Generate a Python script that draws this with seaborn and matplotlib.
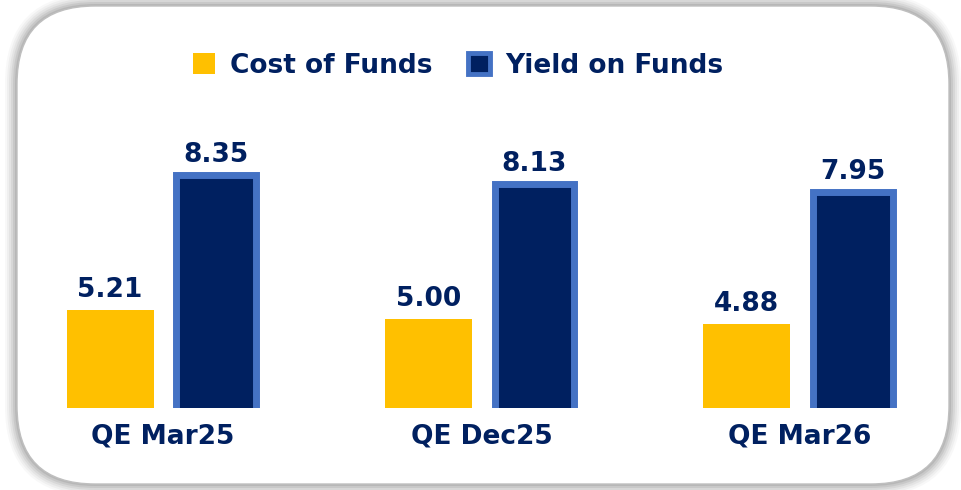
import matplotlib
matplotlib.use("Agg")
import matplotlib.pyplot as plt
import pandas as pd
import seaborn as sns
from matplotlib.patches import FancyBboxPatch, Patch
from matplotlib.transforms import IdentityTransform

# ---- data ----
quarters = ["QE Mar25", "QE Dec25", "QE Mar26"]
series_names = ["Cost of Funds", "Yield on Funds"]
cost_of_funds = [5.21, 5.00, 4.88]
yield_on_funds = [8.35, 8.13, 7.95]

NAVY = "#002060"
YELLOW = "#FFC000"
EDGE_BLUE = "#4472C4"
FS = 19

df = pd.DataFrame({
    "quarter": quarters * 2,
    "series": [series_names[0]] * 3 + [series_names[1]] * 3,
    "value": cost_of_funds + yield_on_funds,
})

sns.set_style("white")
plt.rcParams["font.family"] = ["DejaVu Sans"]

fig = plt.figure(figsize=(9.61, 4.9), dpi=100)

# rounded card with a soft grey shadow (drawn in pixel space)
for i, a in enumerate([0.05, 0.07, 0.09, 0.12, 0.16, 0.22]):
    grow = 12 - i * 2
    shadow = FancyBboxPatch((17 - grow, 6 - grow), 932 + 2 * grow, 478 + 2 * grow,
                            boxstyle=f"round,pad=0,rounding_size={78 + grow}",
                            transform=IdentityTransform(), facecolor="#7f7f7f",
                            edgecolor="none", alpha=a, zorder=0)
    fig.patches.append(shadow)
card = FancyBboxPatch((17, 6), 932, 478, boxstyle="round,pad=0,rounding_size=78",
                      transform=IdentityTransform(), facecolor="white",
                      edgecolor="#bfbfbf", linewidth=1.0, zorder=1)
fig.patches.append(card)

ax = fig.add_axes([4 / 961, 82 / 490, 955 / 961, 304 / 490])
ax.set_zorder(2)
ax.patch.set_alpha(0)

sns.barplot(data=df, x="quarter", y="value", hue="series", order=quarters,
            hue_order=series_names, palette=[YELLOW, NAVY], width=0.666, gap=0.18,
            saturation=1, legend=False, ax=ax)

# blue outline sits inside the yield bars
shrink = 0.011
for bar in ax.containers[1]:
    bar.set_edgecolor(EDGE_BLUE)
    bar.set_linewidth(5)
    bar.set_x(bar.get_x() + shrink)
    bar.set_width(bar.get_width() - 2 * shrink)
for bar in ax.containers[0]:
    bar.set_edgecolor("none")

for cont in ax.containers:
    ax.bar_label(cont, fmt="%.2f", padding=5, color=NAVY, fontsize=FS, fontweight="bold")

ax.set_xlim(-0.5, 2.5)
ax.set_ylim(2.93, 10)
ax.set_xlabel("")
ax.set_ylabel("")
ax.set_yticks([])
ax.tick_params(axis="x", length=0, pad=11)
for lbl in ax.get_xticklabels():
    lbl.set_fontsize(FS)
    lbl.set_fontweight("bold")
    lbl.set_color(NAVY)
sns.despine(ax=ax, left=True, bottom=True)

handles = [Patch(facecolor=YELLOW, edgecolor="none"),
           Patch(facecolor=NAVY, edgecolor=EDGE_BLUE, linewidth=3.5)]
fig.legend(handles, series_names, loc="center", bbox_to_anchor=(458 / 961, 1 - 66 / 490),
           ncol=2, frameon=False, handlelength=0.83, handleheight=0.83, handletextpad=0.57,
           columnspacing=1.36,
           prop={"size": FS, "weight": "bold"}, labelcolor=NAVY)

fig.savefig("out.png", dpi=100)
